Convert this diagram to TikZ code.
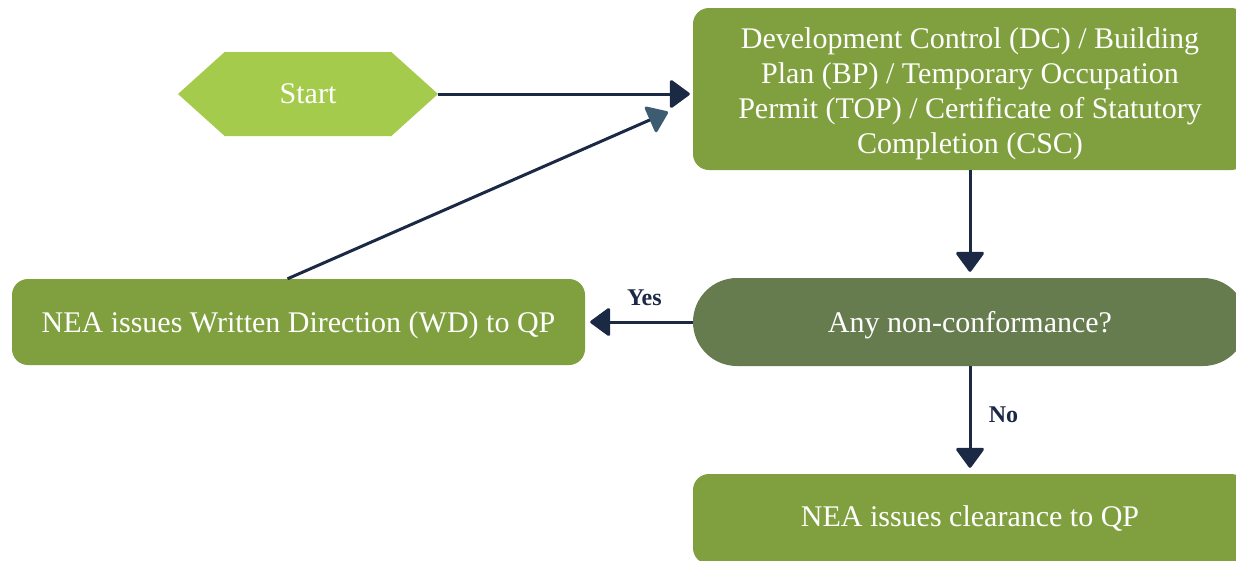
\documentclass[tikz,border=0pt]{standalone}
\usepackage{fontspec}
\setmainfont{Liberation Serif}
\usetikzlibrary{arrows.meta,shapes.symbols,calc}
\definecolor{startgreen}{HTML}{A4CB4C}
\definecolor{boxgreen}{HTML}{80A040}
\definecolor{decgreen}{HTML}{667C4E}
\definecolor{navy}{HTML}{1B2945}
\definecolor{slate}{HTML}{3D5C72}
\tikzset{
  mainfont/.style={font=\fontsize{30}{35}\selectfont},
  boxnode/.style={fill=boxgreen, text=white, rounded corners=16pt, inner sep=0pt, align=center, mainfont},
  onetext/.style={text height=23pt, text depth=2pt},
  startnode/.style={shape=signal, signal to=west and east, signal pointer angle=84, fill=startgreen,
    text=white, inner sep=0pt, minimum width=260pt, minimum height=84pt, mainfont},
  decnode/.style={fill=decgreen, text=white, rounded corners=44pt, inner sep=0pt,
    minimum width=554pt, minimum height=88pt, mainfont},
  tip/.style={-{Triangle[width=30pt,length=21pt,round,#1]}},
  conn/.style={draw=navy, line width=3pt, tip={}},
  lbl/.style={text=navy, font=\fontsize{24}{28}\selectfont\bfseries},
}
\begin{document}
\begin{tikzpicture}[x=1pt,y=-1pt]
\useasboundingbox (0,0) rectangle (1236,560);
\clip (0,0) rectangle (1236,560);
\node[startnode] (start) at (308,94) {Start};
\node[boxnode, minimum width=554pt, minimum height=162pt] (dc) at (970,89) {};
\node[text=white, align=center, mainfont, inner sep=0pt] (dctext) at ([yshift=-5pt]dc.center)
  {Development Control (DC) / Building\\Plan (BP) / Temporary Occupation\\Permit (TOP) / Certificate of Statutory\\Completion (CSC)};
\node[decnode, onetext] (dec) at (970,322) {Any non-conformance?};
\node[boxnode, onetext, minimum width=573pt, minimum height=86pt] (wd) at (298.5,322) {NEA issues Written Direction (WD) to QP};
\node[boxnode, minimum width=554pt, minimum height=90pt] (clr) at (970,519) {NEA issues clearance to QP};
\coordinate (dcin) at (668,112);
\draw[conn, shorten >=3pt] (start.east) -- (dc.west |- start.east);
\draw[conn, shorten >=6pt] (dc.south) -- (dec.north);
\draw[conn, shorten >=5pt] (dec.west) -- node[lbl, above=11pt, pos=0.45] {Yes} (wd.east);
\draw[conn, shorten >=6pt] (dec.south) -- node[lbl, right=14pt, pos=0.45] {No} (clr.north);
\draw[draw=navy, line width=3pt, tip={color=slate}] ([xshift=-11pt]wd.north) -- (dcin);
\end{tikzpicture}
\end{document}
